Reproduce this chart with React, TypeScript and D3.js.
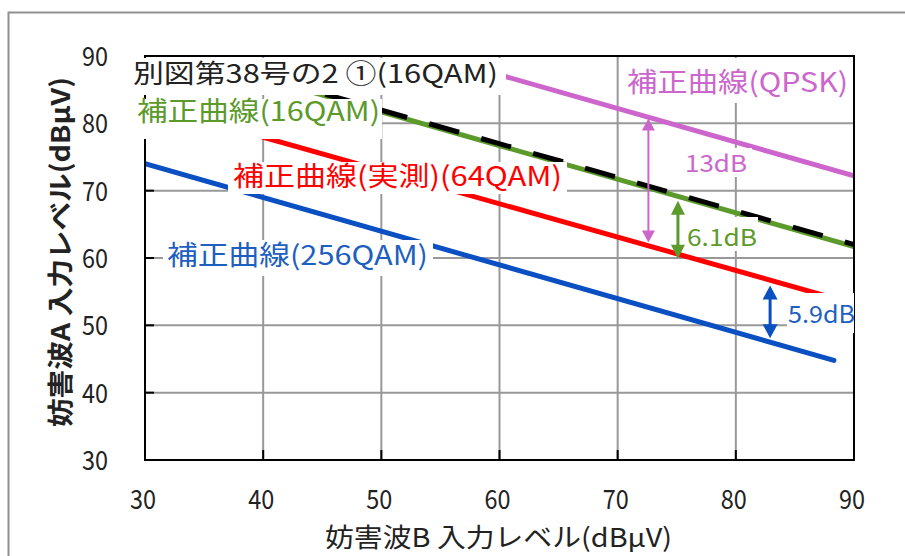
import React from 'react';
import * as d3 from 'd3';

// ---- data ----
const xTicks = [30, 40, 50, 60, 70, 80, 90];
const yTicks = [30, 40, 50, 60, 70, 80, 90];

// straight correction curves: [x (妨害波B dBμV), y (妨害波A dBμV)]
const qpskLine: [number, number][] = [[56, 89.2], [90, 72.2]];
const qam16Line: [number, number][] = [[40, 86.7], [90, 61.7]];
const ref16Line: [number, number][] = [[41, 86.45], [90, 62.0]]; // 別図第38号の2 ①(16QAM), black dashed
const qam64Line: [number, number][] = [[30, 82.9], [90, 53.2]];
const qam256Line: [number, number][] = [[30, 74.0], [88.3, 44.8]];

// gap arrows: x position and y span (data units)
const arrowX = [72.6, 75.1, 82.9];
const arrowFrom = [80.7, 68.5, 55.9];
const arrowTo = [62.3, 59.9, 48.1];
const arrowLabels = ['13dB', '6.1dB', '5.9dB'];

const titleText = '別図第38号の2 ①(16QAM)';
const seriesLabels = ['補正曲線(QPSK)', '補正曲線(16QAM)', '補正曲線(実測)(64QAM)', '補正曲線(256QAM)'];
const xTitle = '妨害波B 入力レベル(dBμV)';
const yTitle = '妨害波A 入力レベル(dBμV)';

// ---- layout / style ----
const W = 905, H = 556;
const L = 145, R = 854, T = 56, B = 460;
const FONT = "'Noto Sans CJK JP', 'Noto Sans', sans-serif";
const C_PINK = '#CC66CC';
const C_GREEN = '#5B9A2B';
const C_RED = '#FF0000';
const C_BLUE = '#0A50C2';
const C_TEXT = '#222222';

const xs = d3.scaleLinear().domain([30, 90]).range([L, R]);
const ys = d3.scaleLinear().domain([30, 90]).range([B, T]);
const lineGen = d3.line<[number, number]>().x(d => xs(d[0])).y(d => ys(d[1]));

type Box = { x: number; y: number; w: number; h: number };
type Lab = { text: string; x: number; base: number; len: number; size: number; fill: string; bg: Box };

const labels: Lab[] = [
  { text: titleText, x: 133, base: 83, len: 365, size: 26, fill: C_TEXT, bg: { x: 130, y: 58, w: 376, h: 37 } },
  { text: seriesLabels[0], x: 627, base: 92, len: 221, size: 27, fill: C_PINK, bg: { x: 622, y: 58, w: 229, h: 45 } },
  { text: seriesLabels[1], x: 137, base: 121, len: 243, size: 27, fill: C_GREEN, bg: { x: 133, y: 99, w: 249, h: 40 } },
  { text: seriesLabels[2], x: 233, base: 186, len: 329, size: 27, fill: C_RED, bg: { x: 228, y: 162, w: 339, h: 32 } },
  { text: seriesLabels[3], x: 167, base: 265, len: 261, size: 27, fill: '#1F5FC0', bg: { x: 163, y: 240, w: 270, h: 36 } },
  { text: arrowLabels[0], x: 685, base: 172, len: 62, size: 23, fill: C_PINK, bg: { x: 680, y: 148, w: 72, h: 29 } },
  { text: arrowLabels[1], x: 687, base: 246, len: 70, size: 23, fill: C_GREEN, bg: { x: 683, y: 217, w: 75, h: 34 } },
  { text: arrowLabels[2], x: 788, base: 323, len: 67, size: 24, fill: '#1F5FC0', bg: { x: 787, y: 293, w: 67, h: 40 } },
];

const arrowStyle = [
  { color: C_PINK, sw: 2, hw: 13, hh: 12 },
  { color: C_GREEN, sw: 3, hw: 14, hh: 14 },
  { color: C_BLUE, sw: 3, hw: 15, hh: 14 },
];

function Arrow({ i }: { i: number }) {
  const st = arrowStyle[i];
  const px = xs(arrowX[i]);
  const y1 = ys(arrowFrom[i]);
  const y2 = ys(arrowTo[i]);
  const hw = st.hw / 2;
  return (
    <g>
      <line x1={px} x2={px} y1={y1 + st.hh - 1} y2={y2 - st.hh + 1} stroke={st.color} strokeWidth={st.sw} />
      <path d={`M${px},${y1} L${px - hw},${y1 + st.hh} L${px + hw},${y1 + st.hh} Z`} fill={st.color} />
      <path d={`M${px},${y2} L${px - hw},${y2 - st.hh} L${px + hw},${y2 - st.hh} Z`} fill={st.color} />
    </g>
  );
}

export default function App() {
  // dash phase for black dashed line: a dash starts at px x = 637
  const sx = xs(ref16Line[0][0]), sy = ys(ref16Line[0][1]);
  const ex = xs(ref16Line[1][0]), ey = ys(ref16Line[1][1]);
  const k = Math.sqrt(1 + ((ey - sy) / (ex - sx)) ** 2);
  const P = 54;
  const d0 = (637 - sx) * k;
  const dashOffset = (((-d0) % P) + P) % P;

  const innerX = xTicks.slice(1, -1);
  const innerY = yTicks.slice(1, -1);

  return (
    <svg width={W} height={H} style={{ position: 'absolute', left: 0, top: 0, background: '#fff' }} fontFamily={FONT}>
      <defs>
        <clipPath id="plot">
          <rect x={L} y={T} width={R - L} height={B - T} />
        </clipPath>
      </defs>
      <rect x={0} y={0} width={W} height={H} fill="#fff" />
      {/* outer chart frame */}
      <rect x={8.5} y={12.5} width={1000} height={1000} fill="none" stroke="#8f8f8f" strokeWidth={2} />

      {/* grid */}
      {innerX.map(v => (
        <line key={'gx' + v} x1={xs(v)} x2={xs(v)} y1={T} y2={B} stroke="#999" strokeWidth={2} />
      ))}
      {innerY.map(v => (
        <line key={'gy' + v} x1={L} x2={R} y1={ys(v)} y2={ys(v)} stroke="#999" strokeWidth={2} />
      ))}

      {/* series */}
      <g clipPath="url(#plot)" fill="none">
        <path d={lineGen(qpskLine) || ''} stroke={C_PINK} strokeWidth={5} />
        <path d={lineGen(qam64Line) || ''} stroke={C_RED} strokeWidth={5} />
        <path d={lineGen(qam256Line) || ''} stroke={C_BLUE} strokeWidth={5} strokeLinecap="round" />
        <path d={lineGen(qam16Line) || ''} stroke={C_GREEN} strokeWidth={5} />
        <path d={lineGen(ref16Line) || ''} stroke="#000" strokeWidth={5} strokeDasharray="31 23" strokeDashoffset={dashOffset} />
      </g>

      {/* plot frame and ticks */}
      <rect x={L} y={T} width={R - L} height={B - T} fill="none" stroke="#000" strokeWidth={2} />
      {innerY.map(v => (
        <line key={'ty' + v} x1={L} x2={L + 9} y1={ys(v)} y2={ys(v)} stroke="#000" strokeWidth={2} />
      ))}
      {innerX.map(v => (
        <line key={'tx' + v} x1={xs(v)} x2={xs(v)} y1={B} y2={B - 10} stroke="#000" strokeWidth={2} />
      ))}

      {/* tick labels */}
      {yTicks.map(v => (
        <text key={'ly' + v} x={108} y={ys(v) + 10} textAnchor="end" fontSize={27} fill={C_TEXT}
          textLength={26} lengthAdjust="spacingAndGlyphs">{v}</text>
      ))}
      {xTicks.map(v => (
        <text key={'lx' + v} x={xs(v) - 2} y={509} textAnchor="middle" fontSize={27} fill={C_TEXT}
          textLength={26} lengthAdjust="spacingAndGlyphs">{v}</text>
      ))}

      {/* label backgrounds */}
      {labels.map((lb, i) => (
        <rect key={'bg' + i} x={lb.bg.x} y={lb.bg.y} width={lb.bg.w} height={lb.bg.h} fill="#fff" />
      ))}
      {labels.map((lb, i) => (
        <text key={'lt' + i} x={lb.x} y={lb.base} fontSize={lb.size} fill={lb.fill}
          textLength={lb.len} lengthAdjust="spacingAndGlyphs">{lb.text}</text>
      ))}

      {/* arrows */}
      {arrowX.map((_, i) => <Arrow key={'ar' + i} i={i} />)}

      {/* axis titles */}
      <text x={325} y={547} fontSize={26} fill={C_TEXT} textLength={347} lengthAdjust="spacingAndGlyphs">{xTitle}</text>
      <text transform="translate(70,252) rotate(-90)" textAnchor="middle" fontSize={26} fontWeight="bold" fill={C_TEXT}
        textLength={350} lengthAdjust="spacingAndGlyphs">{yTitle}</text>
    </svg>
  );
}
